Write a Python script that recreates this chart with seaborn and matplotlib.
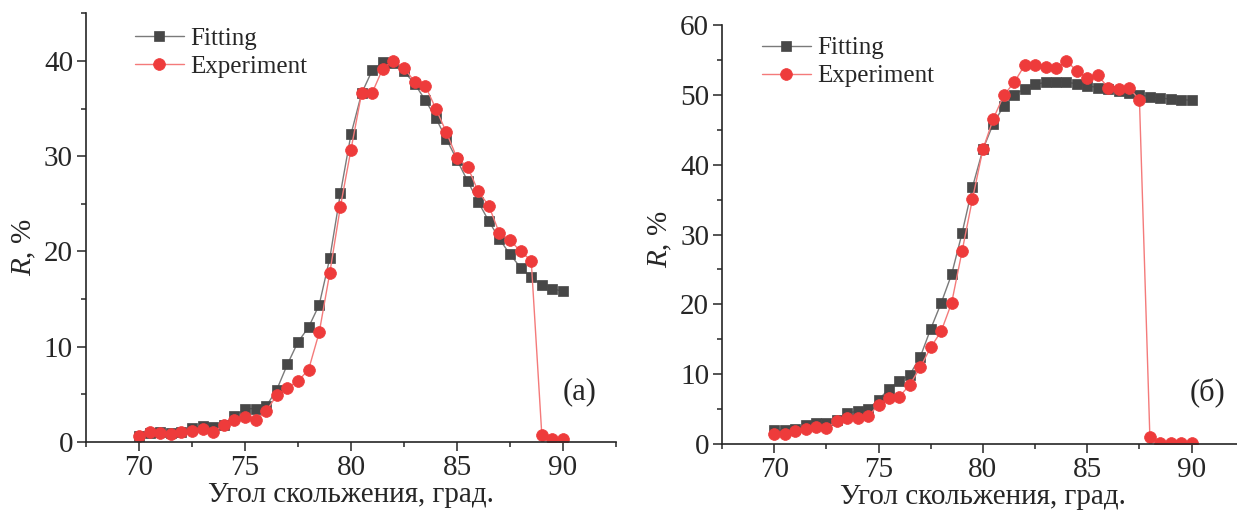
import matplotlib
matplotlib.use("Agg")
import matplotlib.pyplot as plt
from matplotlib.ticker import MultipleLocator
import seaborn as sns
import pandas as pd

# ---------------- data ----------------
angles = [70.0, 70.5, 71.0, 71.5, 72.0, 72.5, 73.0, 73.5, 74.0, 74.5,
          75.0, 75.5, 76.0, 76.5, 77.0, 77.5, 78.0, 78.5, 79.0, 79.5,
          80.0, 80.5, 81.0, 81.5, 82.0, 82.5, 83.0, 83.5, 84.0, 84.5,
          85.0, 85.5, 86.0, 86.5, 87.0, 87.5, 88.0, 88.5, 89.0, 89.5,
          90.0]

fit_a = [0.6, 0.9, 1.0, 0.9, 1.0, 1.5, 1.7, 1.6, 1.75, 2.7,
         3.5, 3.5, 3.75, 5.5, 8.15, 10.5, 12.05, 14.4, 19.3, 26.1,
         32.3, 36.6, 39.0, 39.9, 39.8, 38.9, 37.6, 35.9, 34.0, 31.8,
         29.6, 27.4, 25.2, 23.2, 21.3, 19.7, 18.3, 17.3, 16.5, 16.1,
         15.8]
exp_a = [0.6, 1.1, 0.95, 0.8, 1.1, 1.15, 1.35, 1.05, 1.75, 2.3,
         2.6, 2.3, 3.25, 4.9, 5.7, 6.4, 7.6, 11.5, 17.75, 24.7,
         30.7, 36.6, 36.65, 39.2, 40.0, 39.3, 37.8, 37.4, 35.0, 32.5,
         29.8, 28.9, 26.3, 24.8, 21.9, 21.2, 20.0, 19.05, 0.75, 0.35,
         0.35]

fit_b = [2.0, 2.0, 2.15, 2.7, 3.0, 2.95, 3.45, 4.45, 4.7, 5.0,
         6.35, 7.9, 9.0, 9.95, 12.5, 16.5, 20.2, 24.3, 30.2, 36.8,
         42.2, 45.9, 48.4, 50.0, 50.9, 51.5, 51.8, 51.9, 51.8, 51.6,
         51.3, 51.05, 50.8, 50.5, 50.2, 50.05, 49.7, 49.55, 49.4, 49.3,
         49.25]
exp_b = [1.45, 1.45, 1.9, 2.15, 2.4, 2.3, 3.25, 3.8, 3.7, 3.95,
         5.65, 6.6, 6.8, 8.5, 11.0, 13.85, 16.15, 20.2, 27.6, 35.1,
         42.2, 46.6, 49.95, 51.8, 54.25, 54.25, 54.0, 53.8, 54.9, 53.4,
         52.45, 52.8, 51.05, 50.9, 51.05, 49.25, 0.95, 0.1, 0.1, 0.1,
         0.1]

series_names = ["Fitting", "Experiment"]
panel_tags = ["(a)", "(б)"]
xlabel_text = "Угол скольжения, град."
ylabel_text = "$R$, %"

# ---------------- style ----------------
sns.set_style("ticks")
plt.rcParams["font.family"] = ["Liberation Serif", "DejaVu Serif"]
plt.rcParams["mathtext.fontset"] = "custom"
plt.rcParams["mathtext.rm"] = "Liberation Serif"
plt.rcParams["mathtext.it"] = "Liberation Serif:italic"
plt.rcParams["axes.linewidth"] = 1.2
plt.rcParams["xtick.major.width"] = 1.1
plt.rcParams["ytick.major.width"] = 1.1
plt.rcParams["xtick.minor.width"] = 1.1
plt.rcParams["ytick.minor.width"] = 1.1
plt.rcParams["xtick.major.size"] = 6.3
plt.rcParams["ytick.major.size"] = 6.3
plt.rcParams["xtick.minor.size"] = 3.3
plt.rcParams["ytick.minor.size"] = 3.3
plt.rcParams["xtick.direction"] = "out"
plt.rcParams["ytick.direction"] = "out"

FIT_LINE = "#7a7a7a"
FIT_MARK = "#474747"
EXP_LINE = "#f47a7a"
EXP_MARK = "#ee3b3b"

fig = plt.figure(figsize=(12.37, 5.11), dpi=100)
ax_a = fig.add_axes([0.0695, 0.135, 0.4285, 0.839])
ax_b = fig.add_axes([0.5837, 0.131, 0.4218, 0.820])

panels = [
    (ax_a, fit_a, exp_a, 45, 0.968, 0.0925, 0.932, 0.117, 0.455),
    (ax_b, fit_b, exp_b, 60, 0.972, 0.0767, 0.931, 0.124, 0.49),
]

for i, (ax, fit, exp, ytop, ly, lx, tx, ty, yl) in enumerate(panels):
    df = pd.DataFrame({"angle": angles, "fit": fit, "exp": exp})
    sns.lineplot(data=df, x="angle", y="fit", ax=ax, color=FIT_LINE, lw=1.0,
                 marker="s", markersize=7.2, markerfacecolor=FIT_MARK,
                 markeredgecolor=FIT_MARK, markeredgewidth=0.5,
                 label=series_names[0])
    sns.lineplot(data=df, x="angle", y="exp", ax=ax, color=EXP_LINE, lw=1.0,
                 marker="o", markersize=8.5, markerfacecolor=EXP_MARK,
                 markeredgecolor=EXP_MARK, markeredgewidth=0.5,
                 label=series_names[1])
    ax.set_xlim(67.5, 92.5)
    ax.set_ylim(0, ytop)
    ax.xaxis.set_major_locator(MultipleLocator(5))
    ax.xaxis.set_minor_locator(MultipleLocator(2.5))
    ax.yaxis.set_major_locator(MultipleLocator(10))
    ax.yaxis.set_minor_locator(MultipleLocator(5))
    ax.tick_params(labelsize=21, pad=3)
    for s in ["top", "right"]:
        ax.spines[s].set_visible(False)
    ax.set_xlabel(xlabel_text, fontsize=21, labelpad=1)
    ax.set_ylabel(ylabel_text, fontsize=21, labelpad=4)
    ax.yaxis.label.set_y(yl)
    ax.legend(loc="upper left", bbox_to_anchor=(lx, ly), frameon=False,
              fontsize=18, handlelength=1.95, handletextpad=0.25,
              labelspacing=0.22, borderpad=0, borderaxespad=0)
    ax.text(tx, ty, panel_tags[i], transform=ax.transAxes, fontsize=22,
            ha="center", va="center")

fig.savefig("out.png", dpi=100)
